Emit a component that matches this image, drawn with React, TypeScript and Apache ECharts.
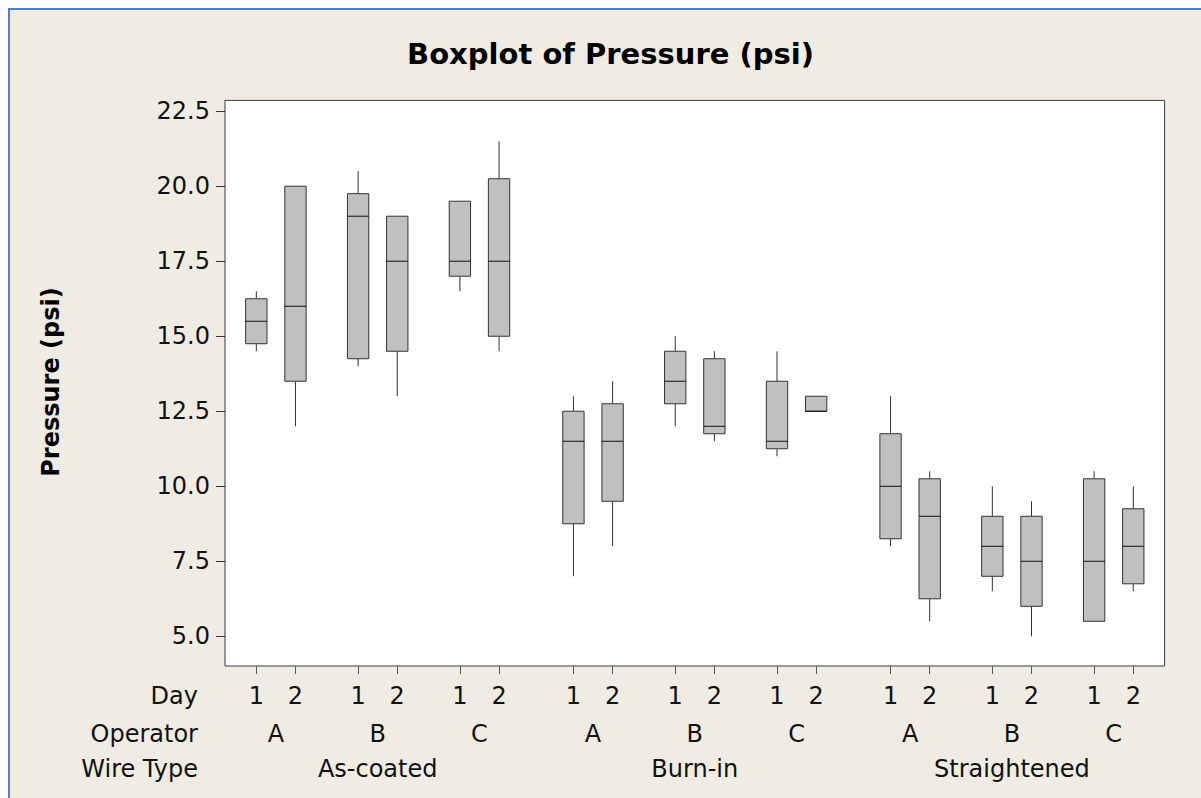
import React, { useEffect, useRef } from "react";
import * as echarts from "echarts";

// ---- data ----
const wireTypes = ["As-coated", "Burn-in", "Straightened"];
const operators = ["A", "B", "C"];
const days = ["1", "2"];

// order: for each wire type, for each operator, day 1 then day 2
const mins = [14.5, 12.0, 14.0, 13.0, 16.5, 14.5, 7.0, 8.0, 12.0, 11.5, 11.0, 12.5, 8.0, 5.5, 6.5, 5.0, 5.5, 6.5];
const q1s = [14.75, 13.5, 14.25, 14.5, 17.0, 15.0, 8.75, 9.5, 12.75, 11.75, 11.25, 12.5, 8.25, 6.25, 7.0, 6.0, 5.5, 6.75];
const medians = [15.5, 16.0, 19.0, 17.5, 17.5, 17.5, 11.5, 11.5, 13.5, 12.0, 11.5, 12.5, 10.0, 9.0, 8.0, 7.5, 7.5, 8.0];
const q3s = [16.25, 20.0, 19.75, 19.0, 19.5, 20.25, 12.5, 12.75, 14.5, 14.25, 13.5, 13.0, 11.75, 10.25, 9.0, 9.0, 10.25, 9.25];
const maxs = [16.5, 20.0, 20.5, 19.0, 19.5, 21.5, 13.0, 13.5, 15.0, 14.5, 14.5, 13.0, 13.0, 10.5, 10.0, 9.5, 10.5, 10.0];

const yTicks = [5.0, 7.5, 10.0, 12.5, 15.0, 17.5, 20.0, 22.5];

// ---- layout of the nested categorical x scale ----
const DAY_STEP = 1;
const OP_STEP = 2.6;
const WIRE_STEP = 8.1;
const BOX_W = 0.545;

const X_MIN = -0.8;
const X_MAX = 23.2;
const Y_MIN = 4.01;
const Y_MAX = 22.86;

const FONT = "'DejaVu Sans', sans-serif";
const FS = 24;

export default function App() {
  const ref = useRef<HTMLDivElement>(null);

  useEffect(() => {
    if (!ref.current) return;
    const chart = echarts.init(ref.current, null, { renderer: "svg" });

    const positions: number[] = [];
    const dayLabelByPos: Record<string, string> = {};
    const opCenters: number[] = [];
    const opLabelByPos: Record<string, string> = {};
    const wireCenters: number[] = [];
    const wireLabelByPos: Record<string, string> = {};
    wireTypes.forEach((w, wi) => {
      const wc = wi * WIRE_STEP + OP_STEP + DAY_STEP / 2;
      wireCenters.push(wc);
      wireLabelByPos[wc.toFixed(3)] = w;
      operators.forEach((o, oi) => {
        const oc = wi * WIRE_STEP + oi * OP_STEP + DAY_STEP / 2;
        opCenters.push(oc);
        opLabelByPos[oc.toFixed(3)] = o;
        days.forEach((d, di) => {
          const p = wi * WIRE_STEP + oi * OP_STEP + di * DAY_STEP;
          positions.push(p);
          dayLabelByPos[p.toFixed(3)] = d;
        });
      });
    });

    const data = positions.map((p, i) => [p, mins[i], q1s[i], medians[i], q3s[i], maxs[i]]);

    const labelStyle = {
      margin: 29.5,
      verticalAlign: "middle",
      fontSize: FS,
      fontFamily: FONT,
      color: "#111",
    };

    const baseX = {
      type: "value",
      min: X_MIN,
      max: X_MAX,
      position: "bottom",
      axisLine: { show: false, onZero: false },
      splitLine: { show: false },
    };

    const textGraphics: any[] = [
      {
        type: "text",
        x: 600.5,
        y: 44,
        style: {
          text: "Boxplot of Pressure (psi)",
          font: "bold 29px 'DejaVu Sans', sans-serif",
          fill: "#000",
          textAlign: "center",
          textVerticalAlign: "middle",
        },
      },
      {
        type: "text",
        x: 41,
        y: 372,
        rotation: Math.PI / 2,
        style: {
          text: "Pressure (psi)",
          font: "bold 24px 'DejaVu Sans', sans-serif",
          fill: "#000",
          textAlign: "center",
          textVerticalAlign: "middle",
        },
      },
      ...["Day", "Operator", "Wire Type"].map((t, i) => ({
        type: "text",
        x: 188,
        y: [685.5, 724, 759][i],
        style: {
          text: t,
          font: `${FS}px ${FONT}`,
          fill: "#111",
          textAlign: "right",
          textVerticalAlign: "middle",
        },
      })),
    ];

    const option: any = {
      animation: false,
      backgroundColor: "#F0ECE3",
      grid: {
        left: 215,
        top: 90.4,
        right: 36.4,
        bottom: 132,
        show: true,
        backgroundColor: "#ffffff",
        borderColor: "#3c3c3c",
        borderWidth: 1,
      },
      xAxis: [
        {
          ...baseX,
          axisTick: { show: true, inside: false, length: 8, lineStyle: { color: "#555", width: 1 }, customValues: positions },
          axisLabel: {
            ...labelStyle,
            customValues: positions,
            formatter: (v: number) => dayLabelByPos[v.toFixed(3)] ?? "",
          },
        },
        {
          ...baseX,
          offset: 38.5,
          axisTick: { show: false },
          axisLabel: {
            ...labelStyle,
            customValues: opCenters,
            formatter: (v: number) => opLabelByPos[v.toFixed(3)] ?? "",
          },
        },
        {
          ...baseX,
          offset: 73.5,
          axisTick: { show: false },
          axisLabel: {
            ...labelStyle,
            customValues: wireCenters,
            formatter: (v: number) => wireLabelByPos[v.toFixed(3)] ?? "",
          },
        },
      ],
      yAxis: {
        type: "value",
        min: Y_MIN,
        max: Y_MAX,
        position: "left",
        axisLine: { show: false, onZero: false },
        splitLine: { show: false },
        axisTick: { show: true, inside: false, length: 9, lineStyle: { color: "#333", width: 1 }, customValues: yTicks },
        axisLabel: {
          customValues: yTicks,
          formatter: (v: number) => v.toFixed(1),
          margin: 15,
          fontSize: FS,
          fontFamily: FONT,
          color: "#111",
        },
      },
      graphic: textGraphics,
      series: [
        {
          type: "custom",
          name: "boxes",
          xAxisIndex: 0,
          yAxisIndex: 0,
          encode: { x: 0, y: [1, 2, 3, 4, 5] },
          data,
          renderItem: (params: any, api: any) => {
            const x = api.value(0);
            const pMin = api.coord([x, api.value(1)]);
            const pQ1 = api.coord([x, api.value(2)]);
            const pMed = api.coord([x, api.value(3)]);
            const pQ3 = api.coord([x, api.value(4)]);
            const pMax = api.coord([x, api.value(5)]);
            const half = api.size([BOX_W, 0])[0] / 2;
            const cx = pQ1[0];
            return {
              type: "group",
              children: [
                {
                  type: "line",
                  shape: { x1: cx, y1: pMax[1], x2: cx, y2: pQ3[1] },
                  style: { stroke: "#333", lineWidth: 1 },
                },
                {
                  type: "line",
                  shape: { x1: cx, y1: pQ1[1], x2: cx, y2: pMin[1] },
                  style: { stroke: "#333", lineWidth: 1 },
                },
                {
                  type: "rect",
                  shape: { x: cx - half, y: pQ3[1], width: half * 2, height: pQ1[1] - pQ3[1] },
                  style: { fill: "#C0C0C0", stroke: "#333", lineWidth: 1 },
                },
                {
                  type: "line",
                  shape: { x1: cx - half, y1: pMed[1], x2: cx + half, y2: pMed[1] },
                  style: { stroke: "#111", lineWidth: 1 },
                },
              ],
            };
          },
        },
      ],
    };

    chart.setOption(option);

    // y-axis tick marks, positioned through the axis scale
    const tickMarks = yTicks.map((v) => {
      const p = chart.convertToPixel({ xAxisIndex: 0, yAxisIndex: 0 }, [X_MIN, v]) as number[];
      const y = Math.round(p[1]) + 0.5;
      return {
        type: "line",
        z: 100,
        shape: { x1: p[0] - 9, y1: y, x2: p[0], y2: y },
        style: { stroke: "#333", lineWidth: 1 },
      };
    });
    chart.setOption({ graphic: [...textGraphics, ...tickMarks] });

    return () => chart.dispose();
  }, []);

  return (
    <div
      style={{
        position: "fixed",
        left: 8,
        top: 8,
        width: 1193,
        height: 790,
        boxSizing: "border-box",
        borderTop: "2px solid #4F7FC4",
        borderLeft: "2px solid #4F7FC4",
        background: "#F0ECE3",
      }}
    >
      <div ref={ref} style={{ width: 1191, height: 788 }} />
    </div>
  );
}
